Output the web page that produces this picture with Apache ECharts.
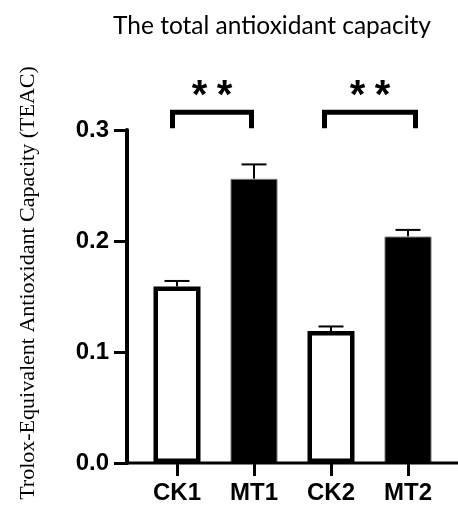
<!DOCTYPE html>
<html>
<head>
<meta charset="utf-8">
<script src="https://cdn.jsdelivr.net/npm/echarts@6/dist/echarts.min.js"></script>
<style>
  html, body { margin: 0; padding: 0; background: #fff; }
  #chart { width: 458px; height: 506px; }
</style>
</head>
<body>
<div id="chart"></div>
<script>
// ---- data ----
const categories = ['CK1', 'MT1', 'CK2', 'MT2'];
const meanValues = [0.159, 0.256, 0.119, 0.204];
const errorValues = [0.005, 0.013, 0.004, 0.006];
const isTreated = [false, true, false, true];
const sigPairs = [[0, 1], [2, 3]];
const sigLabels = ['**', '**'];
const sigLevel = [0.316];
const yTicks = [0, 0.1, 0.2, 0.3];

// ---- style ----
const bracketLegOffsets = [[-4.5, -2.5], [-6.5, 7.5]];
const bracketLegDrop = 16;
const starSpacing = 25;
const chart = echarts.init(document.getElementById('chart'), null, { renderer: 'canvas' });

const barData = meanValues.map((v, i) => ({
  value: v,
  itemStyle: isTreated[i]
    ? { color: '#000', borderColor: '#777', borderWidth: 1 }
    : { color: '#fff', borderColor: '#000', borderWidth: 4.5 }
}));

const errData = meanValues.map((v, i) => [i, v, errorValues[i]]);
const sigData = sigPairs.map((p, k) => [p[0], p[1], sigLevel[0], k]);

chart.setOption({
  animation: false,
  backgroundColor: '#fff',
  title: {
    text: 'The total antioxidant capacity',
    left: 267, top: 9, textAlign: 'center',
    textStyle: { fontFamily: 'Lato', fontSize: 24.5, fontWeight: 'normal', color: '#000' }
  },
  grid: { left: 138.5, right: 11.5, top: 130, bottom: 43, containLabel: false },
  xAxis: {
    type: 'category',
    data: categories,
    axisLine: { show: false },
    axisTick: { show: true, alignWithLabel: true, length: 13, lineStyle: { width: 3, color: '#000' } },
    axisLabel: { margin: 18, color: '#000', fontFamily: 'Liberation Sans', fontWeight: 'bold', fontSize: 24 }
  },
  yAxis: {
    type: 'value',
    min: yTicks[0], max: yTicks[yTicks.length - 1], interval: 0.1,
    offset: 11.5,
    name: 'Trolox-Equivalent Antioxidant Capacity (TEAC)',
    nameLocation: 'middle',
    nameGap: 88,
    nameTextStyle: { fontFamily: 'Liberation Serif', fontSize: 22, color: '#000', padding: [0, 0, 0, 27] },
    axisLine: { show: true, lineStyle: { width: 4, color: '#000' } },
    axisTick: { show: true, length: 13, lineStyle: { width: 3, color: '#000' } },
    axisLabel: { margin: 18, color: '#000', fontFamily: 'Liberation Sans', fontWeight: 'bold', fontSize: 24,
      formatter: v => v.toFixed(1) },
    splitLine: { show: false }
  },
  series: [
    {
      type: 'bar',
      data: barData,
      barWidth: 47,
      z: 2
    },
    {
      type: 'custom',
      data: errData,
      z: 1,
      renderItem: (params, api) => {
        const x = api.value(0), v = api.value(1), e = api.value(2);
        const p0 = api.coord([x, v]);
        const p1 = api.coord([x, v + e]);
        const style = { stroke: '#000', lineWidth: 2 };
        return {
          type: 'group',
          children: [
            { type: 'line', shape: { x1: p0[0], y1: p0[1], x2: p1[0], y2: p1[1] }, style },
            { type: 'line', shape: { x1: p1[0] - 12.5, y1: p1[1], x2: p1[0] + 12.5, y2: p1[1] }, style }
          ]
        };
      }
    },
    {
      type: 'custom',
      data: sigData,
      z: 3,
      clip: false,
      renderItem: (params, api) => {
        const a = api.value(0), b = api.value(1), lvl = api.value(2);
        const k = params.dataIndex;
        const pa = api.coord([a, lvl]);
        const pb = api.coord([b, lvl]);
        const xa = pa[0] + bracketLegOffsets[k][0];
        const xb = pb[0] + bracketLegOffsets[k][1];
        const y = pa[1];
        const chars = sigLabels[k].split('');
        const cx = (xa + xb) / 2;
        const children = [
          { type: 'polyline', shape: { points: [[xa, y + bracketLegDrop], [xa, y], [xb, y], [xb, y + bracketLegDrop]] },
            style: { stroke: '#000', lineWidth: 5, fill: null, lineJoin: 'miter' } }
        ];
        chars.forEach((c, i) => {
          children.push({ type: 'text', style: { text: c,
            x: cx + (i - (chars.length - 1) / 2) * starSpacing, y: y - 15,
            textAlign: 'center', textVerticalAlign: 'middle',
            font: 'bold 40px "Liberation Sans"', fill: '#000' } });
        });
        return { type: 'group', children };
      }
    }
  ]
});

// extend the x-axis baseline from the offset y-axis to the right edge
const y0 = chart.convertToPixel({ yAxisIndex: 0 }, 0);
chart.setOption({
  graphic: [{
    type: 'line', z: 10,
    shape: { x1: 125, y1: y0, x2: 458, y2: y0 },
    style: { stroke: '#000', lineWidth: 3 }
  }]
});
</script>
</body>
</html>
